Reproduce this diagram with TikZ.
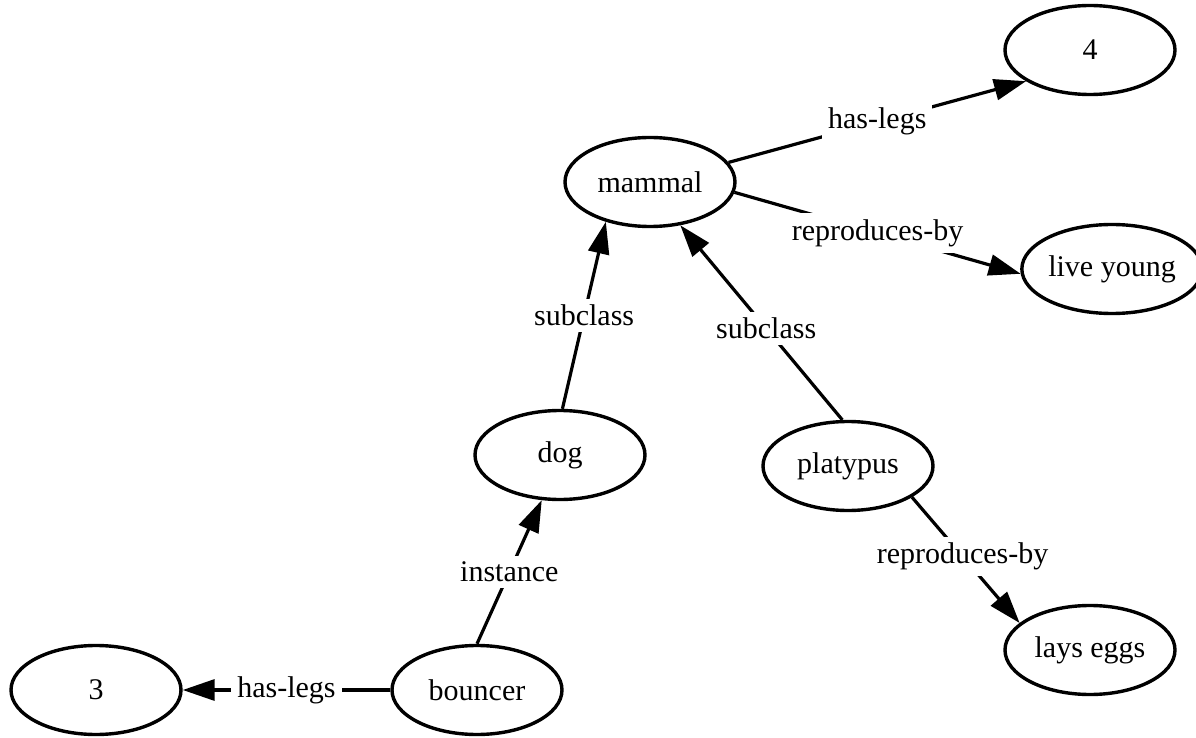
\documentclass[tikz,border=0pt]{standalone}
\usepackage{fontspec}
\setmainfont{Liberation Serif}
\usetikzlibrary{shapes.geometric,arrows.meta}

\begin{document}
\begin{tikzpicture}[x=0.5pt, y=-0.5pt,
  font=\fontsize{15}{18}\selectfont,
  concept/.style={draw, ellipse, line width=1.7pt, minimum width=85pt, minimum height=44.5pt, inner sep=0pt},
  rel/.style={fill=white, inner sep=3pt},
  link/.style={line width=1.6pt, -{Triangle[length=16pt, width=10.5pt]}}]
\useasboundingbox (0, 0) rectangle (1196, 738);
% concepts
\node [concept] (four) at (1090, 50) {4};
\node [concept] (mammal) at (650, 182) {mammal};
\node [concept] (young) at (1112, 269) {live young};
\node [concept] (dog) at (560, 455) {dog};
\node [concept] (platypus) at (848, 466) {platypus};
\node [concept] (eggs) at (1090, 650) {lays eggs};
\node [concept] (three) at (96, 690) {3};
\node [concept] (bouncer) at (477, 690) {bouncer};
% relations
\draw [link] (mammal.14) -- node [rel] {has-legs} (four.206);
\draw [link] (mammal.353) -- node [rel] {reproduces-by} (young.183);
\draw [link] (dog.87) -- node [rel] {subclass} (mammal.222);
\draw [link] (platypus.97) -- node [rel, pos=0.47] {subclass} (mammal.305);
\draw [link] (platypus.334) -- node [rel, pos=0.47] {reproduces-by} (eggs.159);
\draw [link] (bouncer.90) -- node [rel] {instance} (dog.248);
\draw [link] (bouncer.180) -- node [rel] {has-legs} (three.0);
\end{tikzpicture}
\end{document}
